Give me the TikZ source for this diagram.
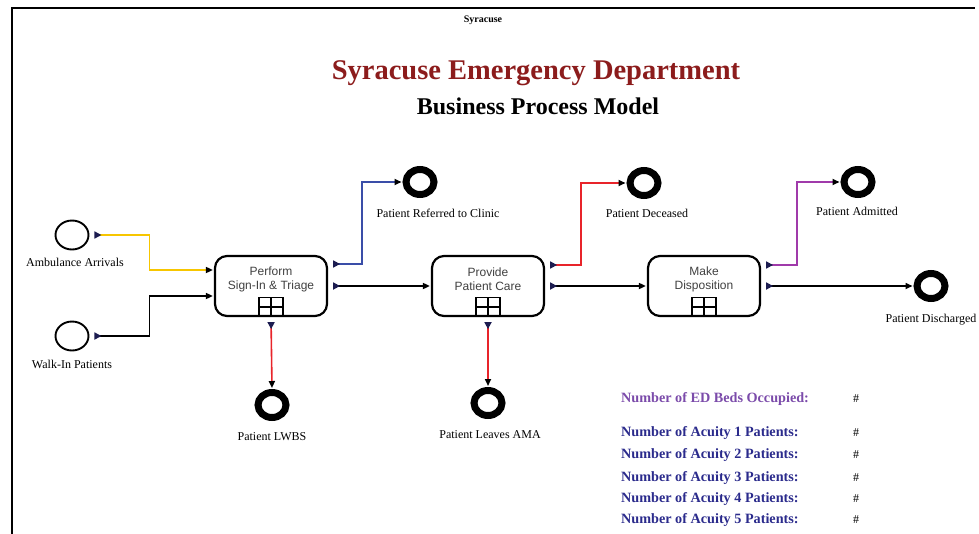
\documentclass[tikz,border=0pt]{standalone}
\usepackage{fontspec}
\setmainfont{Liberation Serif}
\newfontfamily\arialf{Liberation Sans}
\usetikzlibrary{arrows.meta,shapes.geometric}
\definecolor{titlered}{HTML}{8C1C1C}
\definecolor{navytip}{HTML}{1C1C50}
\definecolor{yellowc}{HTML}{F7C600}
\definecolor{bluec}{HTML}{3A4EA8}
\definecolor{redc}{HTML}{E8242A}
\definecolor{purplec}{HTML}{A03AAA}
\definecolor{statnavy}{HTML}{2B2B8C}
\definecolor{statpurple}{HTML}{7B4BAA}
\begin{document}
\begin{tikzpicture}[x=1pt,y=-1pt,
  startev/.style={ellipse,draw,line width=1.9pt,minimum width=33pt,minimum height=29pt,inner sep=0pt},
  endev/.style={ellipse,draw,line width=7pt,minimum width=28pt,minimum height=25pt,inner sep=0pt},
  taskbox/.style={draw,rounded corners=12pt,line width=2.2pt,minimum width=112pt,minimum height=60pt,inner sep=0pt},
  tasktext/.style={font=\arialf\fontsize{12}{14}\selectfont,align=center,text=black!75,inner sep=0pt},
  gridmark/.style={draw,line width=1.4pt,minimum width=24pt,minimum height=19pt,inner sep=0pt,anchor=south,
    path picture={\draw[line width=1.4pt] (path picture bounding box.north) -- (path picture bounding box.south)
      (path picture bounding box.west) -- (path picture bounding box.east);}},
  lbl/.style={font=\fontsize{12}{14}\selectfont,inner sep=0pt},
  flow/.style={line width=1.6pt,shorten <=5pt,shorten >=1pt,
    {Triangle[reversed,length=7pt,width=7pt,color=navytip]}-{Triangle[length=7pt,width=6pt,color=black]}},
  stat/.style={font=\bfseries\fontsize{14.2}{16}\selectfont,text=statnavy,anchor=west,inner sep=0pt},
  hash/.style={font=\fontsize{12}{14}\selectfont,anchor=west,inner sep=0pt}]
\useasboundingbox (0,0) rectangle (979,533);
% frame
\draw[line width=2.6pt] (12,534) -- (12,8) -- (975,8);
\node[font=\bfseries\fontsize{10}{12}\selectfont,inner sep=0pt] (top) at (483,20) {Syracuse};
% titles
\node[font=\bfseries\fontsize{28.5}{32}\selectfont,text=titlered,inner sep=0pt] (title) at (536,73) {Syracuse Emergency Department};
\node[font=\bfseries\fontsize{24}{28}\selectfont,inner sep=0pt] (subtitle) at (538,106) {Business Process Model};
% tasks
\node[taskbox] (t1) at (271,286) {};
\node[tasktext] (t1txt) at (271,279) {Perform\\Sign-In \& Triage};
\node[gridmark] (g1) at (t1.south) {};
\node[taskbox] (t2) at (488,286) {};
\node[tasktext] (t2txt) at (488,279) {Provide\\Patient Care};
\node[gridmark] (g2) at (t2.south) {};
\node[taskbox] (t3) at (704,286) {};
\node[tasktext] (t3txt) at (704,279) {Make\\Disposition};
\node[gridmark] (g3) at (t3.south) {};
% start events
\node[startev] (amb) at (72,235) {};
\node[lbl] (ambl) at (75,262) {Ambulance Arrivals};
\node[startev] (walk) at (72,336) {};
\node[lbl] (walkl) at (72,364) {Walk-In Patients};
% end events
\node[endev] (ref) at (420,182) {};
\node[lbl] (refl) at (438,213) {Patient Referred to Clinic};
\node[endev] (dec) at (644,183) {};
\node[lbl] (decl) at (647,213) {Patient Deceased};
\node[endev] (adm) at (858,182) {};
\node[lbl] (adml) at (857,211) {Patient Admitted};
\node[endev] (dis) at (931,286) {};
\node[lbl] (disl) at (931,320) {Patient Discharged};
\node[endev] (lwbs) at (272,405) {};
\node[lbl] (lwbsl) at (272,437) {Patient LWBS};
\node[endev] (ama) at (488,403) {};
\node[lbl] (amal) at (490,435) {Patient Leaves AMA};
% connectors
\draw[flow,yellowc] (amb.east) -- ++(60,0) |- ([yshift=16pt]t1.west);
\draw[flow,black] (walk.east) -- ++(60,0) |- ([yshift=-10pt]t1.west);
\draw[flow,black] (t1.east) -- (t2.west);
\draw[flow,black] (t2.east) -- (t3.west);
\draw[flow,black] (t3.east) -- (dis.west);
\draw[flow,bluec] ([yshift=22pt]t1.east) -- ++(34,0) |- (ref.west);
\draw[flow,redc] ([yshift=21pt]t2.east) -- ++(36,0) |- (dec.west);
\draw[flow,purplec] ([yshift=21pt]t3.east) -- ++(36,0) |- (adm.west);
\draw[flow,redc] (t1.south) -- (lwbs.north);
\draw[flow,redc] (t2.south) -- (ama.north);
% statistics
\node[stat,text=statpurple] (s0) at (621,399) {Number of ED Beds Occupied:};
\node[hash] (h0) at (853,399) {\#};
\node[stat] (s1) at (621,433) {Number of Acuity 1 Patients:};
\node[hash] (h1) at (853,433) {\#};
\node[stat] (s2) at (621,455) {Number of Acuity 2 Patients:};
\node[hash] (h2) at (853,455) {\#};
\node[stat] (s3) at (621,478) {Number of Acuity 3 Patients:};
\node[hash] (h3) at (853,478) {\#};
\node[stat] (s4) at (621,499) {Number of Acuity 4 Patients:};
\node[hash] (h4) at (853,499) {\#};
\node[stat] (s5) at (621,520) {Number of Acuity 5 Patients:};
\node[hash] (h5) at (853,520) {\#};
\end{tikzpicture}
\end{document}
